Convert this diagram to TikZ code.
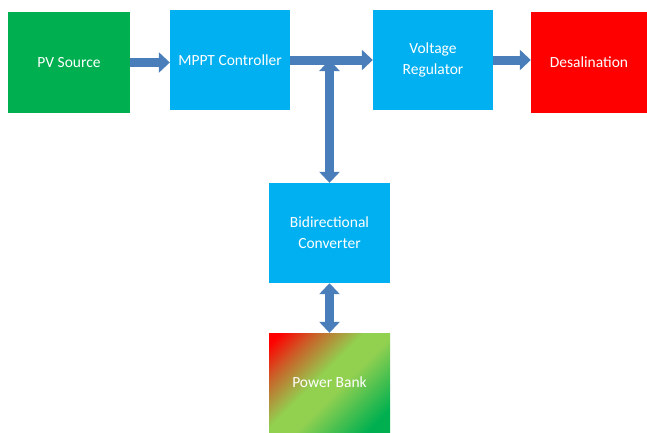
\documentclass[tikz,border=0pt]{standalone}
\usepackage{fontspec}
\setmainfont{Carlito}
\usetikzlibrary{arrows.meta}
\definecolor{pvgreen}{HTML}{00B050}
\definecolor{ctrlblue}{HTML}{00B0F0}
\definecolor{desalred}{HTML}{FF0000}
\definecolor{lightgreen}{HTML}{92D050}
\definecolor{flowblue}{HTML}{4A7EBB}
\definecolor{bankbrown}{HTML}{C8642A}
% red corner, light green middle, green corner
\pgfdeclareverticalshading{bankshade}{100bp}{color(0bp)=(pvgreen); color(22bp)=(pvgreen);
  color(45bp)=(lightgreen); color(55bp)=(lightgreen); color(70bp)=(bankbrown);
  color(82bp)=(desalred); color(100bp)=(desalred)}
\tikzset{
  block/.style={minimum width=120pt,minimum height=100pt,inner sep=2pt,
    text=white,align=center,font=\fontsize{15.5}{21}\selectfont},
  flow/.style={draw=flowblue,line width=9pt,
    -{Triangle[length=11pt,width=20pt]}},
  twoway/.style={flow,{Triangle[length=11pt,width=20pt]}-{Triangle[length=11pt,width=20pt]}}
}
\begin{document}
\begin{tikzpicture}[x=1pt,y=1pt]
\useasboundingbox (0,0) rectangle (647,-432);

\node[block,fill=pvgreen,minimum width=122pt,minimum height=101pt] (pv) at (69,-62.5) {PV Source};
\node[block,fill=ctrlblue] (mppt) at (230,-60) {MPPT Controller};
\node[block,fill=ctrlblue] (volt) at (433,-60) {Voltage\\Regulator};
\node[block,fill=desalred,minimum width=116pt,minimum height=101pt] (desal) at (589,-62.5) {Desalination};
\node[block,fill=ctrlblue,minimum width=121pt] (bidir) at (329.5,-233) {Bidirectional\\Converter};
\node[block,minimum width=121pt,minimum height=99pt,shading=bankshade,shading angle=45] (bank) at (329.5,-382.5) {Power Bank};

\coordinate (jn) at (bidir.north |- mppt.east);

\draw[flow] (pv.east) -- (pv.east -| mppt.west);
\draw[flow] (mppt.east) -- (volt.west);
\draw[flow] (volt.east) -- (volt.east -| desal.west);
\draw[twoway] (bidir.north) -- (jn);
\draw[twoway] (bidir.south) -- (bank.north);
\end{tikzpicture}
\end{document}
